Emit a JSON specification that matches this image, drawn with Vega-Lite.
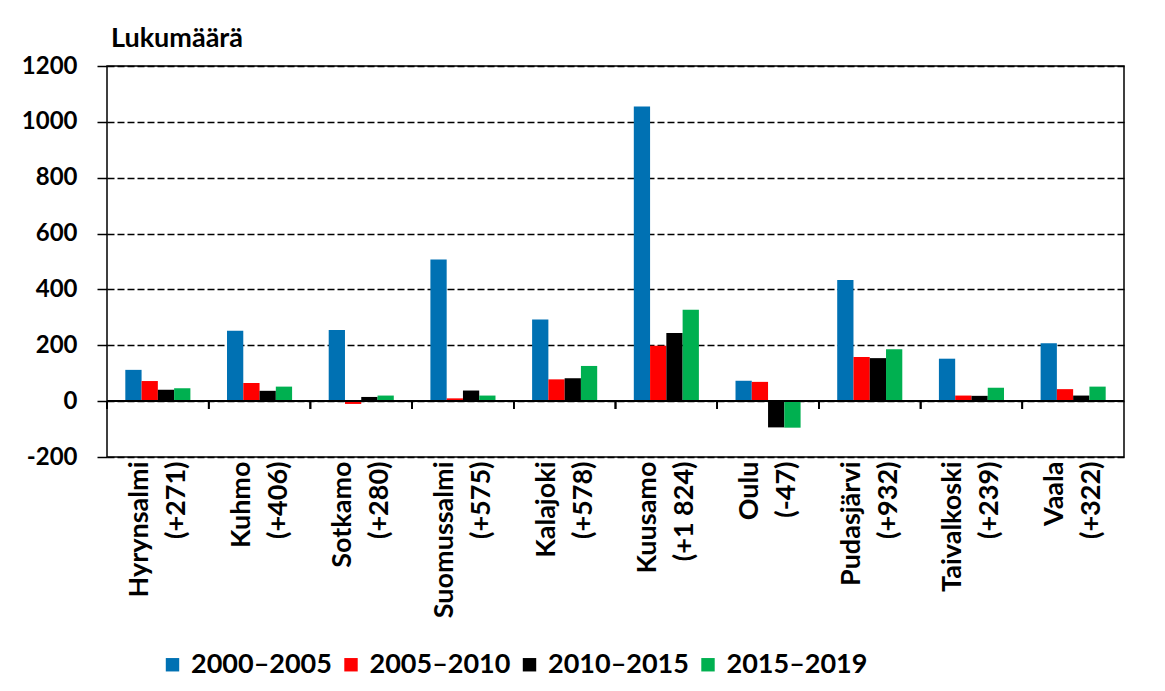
{
  "$schema": "https://vega.github.io/schema/vega-lite/v6.json",
  "width": 1017,
  "height": 391,
  "padding": {"left": 21, "top": 25, "right": 41, "bottom": 10},
  "background": "white",
  "title": {
    "text": "Lukumäärä",
    "anchor": "start",
    "frame": "group",
    "dx": 4,
    "offset": 1,
    "font": "Lato",
    "fontSize": 27,
    "fontWeight": "bold",
    "color": "black"
  },
  "data": {
    "values": [
      {"kunta": "Hyrynsalmi|(+271)", "jakso": "2000–2005", "arvo": 112},
      {"kunta": "Hyrynsalmi|(+271)", "jakso": "2005–2010", "arvo": 72},
      {"kunta": "Hyrynsalmi|(+271)", "jakso": "2010–2015", "arvo": 41},
      {"kunta": "Hyrynsalmi|(+271)", "jakso": "2015–2019", "arvo": 46},
      {"kunta": "Kuhmo|(+406)", "jakso": "2000–2005", "arvo": 252},
      {"kunta": "Kuhmo|(+406)", "jakso": "2005–2010", "arvo": 65},
      {"kunta": "Kuhmo|(+406)", "jakso": "2010–2015", "arvo": 37},
      {"kunta": "Kuhmo|(+406)", "jakso": "2015–2019", "arvo": 52},
      {"kunta": "Sotkamo|(+280)", "jakso": "2000–2005", "arvo": 255},
      {"kunta": "Sotkamo|(+280)", "jakso": "2005–2010", "arvo": -10},
      {"kunta": "Sotkamo|(+280)", "jakso": "2010–2015", "arvo": 15},
      {"kunta": "Sotkamo|(+280)", "jakso": "2015–2019", "arvo": 20},
      {"kunta": "Suomussalmi|(+575)", "jakso": "2000–2005", "arvo": 507},
      {"kunta": "Suomussalmi|(+575)", "jakso": "2005–2010", "arvo": 10},
      {"kunta": "Suomussalmi|(+575)", "jakso": "2010–2015", "arvo": 38},
      {"kunta": "Suomussalmi|(+575)", "jakso": "2015–2019", "arvo": 20},
      {"kunta": "Kalajoki|(+578)", "jakso": "2000–2005", "arvo": 292},
      {"kunta": "Kalajoki|(+578)", "jakso": "2005–2010", "arvo": 78},
      {"kunta": "Kalajoki|(+578)", "jakso": "2010–2015", "arvo": 82},
      {"kunta": "Kalajoki|(+578)", "jakso": "2015–2019", "arvo": 126},
      {"kunta": "Kuusamo|(+1 824)", "jakso": "2000–2005", "arvo": 1055},
      {"kunta": "Kuusamo|(+1 824)", "jakso": "2005–2010", "arvo": 198},
      {"kunta": "Kuusamo|(+1 824)", "jakso": "2010–2015", "arvo": 244},
      {"kunta": "Kuusamo|(+1 824)", "jakso": "2015–2019", "arvo": 327},
      {"kunta": "Oulu|(-47)", "jakso": "2000–2005", "arvo": 73},
      {"kunta": "Oulu|(-47)", "jakso": "2005–2010", "arvo": 69},
      {"kunta": "Oulu|(-47)", "jakso": "2010–2015", "arvo": -94},
      {"kunta": "Oulu|(-47)", "jakso": "2015–2019", "arvo": -95},
      {"kunta": "Pudasjärvi|(+932)", "jakso": "2000–2005", "arvo": 434},
      {"kunta": "Pudasjärvi|(+932)", "jakso": "2005–2010", "arvo": 158},
      {"kunta": "Pudasjärvi|(+932)", "jakso": "2010–2015", "arvo": 154},
      {"kunta": "Pudasjärvi|(+932)", "jakso": "2015–2019", "arvo": 186},
      {"kunta": "Taivalkoski|(+239)", "jakso": "2000–2005", "arvo": 152},
      {"kunta": "Taivalkoski|(+239)", "jakso": "2005–2010", "arvo": 20},
      {"kunta": "Taivalkoski|(+239)", "jakso": "2010–2015", "arvo": 19},
      {"kunta": "Taivalkoski|(+239)", "jakso": "2015–2019", "arvo": 48},
      {"kunta": "Vaala|(+322)", "jakso": "2000–2005", "arvo": 207},
      {"kunta": "Vaala|(+322)", "jakso": "2005–2010", "arvo": 43},
      {"kunta": "Vaala|(+322)", "jakso": "2010–2015", "arvo": 20},
      {"kunta": "Vaala|(+322)", "jakso": "2015–2019", "arvo": 52}
    ]
  },
  "layer": [
    {
      "mark": {"type": "bar"},
      "encoding": {
        "x": {
          "field": "kunta",
          "type": "nominal",
          "sort": null,
          "title": null,
          "scale": {"paddingInner": 0.36, "paddingOuter": 0.18},
          "axis": {
            "orient": "bottom",
            "domain": false,
            "ticks": false,
            "tickSize": 0,
            "labelAngle": -90,
            "labelAlign": "right",
            "labelBaseline": "middle",
            "labelExpr": "split(datum.label, '|')",
            "labelLineHeight": 37,
            "labelOffset": -18,
            "labelFont": "Lato",
            "labelFontSize": 27,
            "labelFontWeight": "bold",
            "labelColor": "black",
            "labelPadding": 4,
            "labelLimit": 400
          }
        },
        "xOffset": {
          "field": "jakso",
          "type": "nominal",
          "sort": ["2000–2005", "2005–2010", "2010–2015", "2015–2019"],
          "scale": {"paddingInner": 0, "paddingOuter": 0}
        },
        "y": {
          "field": "arvo",
          "type": "quantitative",
          "title": null,
          "scale": {"domain": [-200, 1200], "nice": false, "zero": false},
          "axis": {
            "values": [-200, 0, 200, 400, 600, 800, 1000, 1200],
            "labelExpr": "datum.value + ''",
            "grid": true,
            "gridDash": [7, 3],
            "gridColor": "black",
            "gridWidth": 1.3,
            "domain": false,
            "tickSize": 10,
            "tickColor": "black",
            "tickWidth": 1.5,
            "labelFont": "Lato",
            "labelFontSize": 24,
            "labelFontWeight": "bold",
            "labelColor": "black",
            "labelPadding": 20
          }
        },
        "color": {
          "field": "jakso",
          "type": "nominal",
          "scale": {
            "domain": ["2000–2005", "2005–2010", "2010–2015", "2015–2019"],
            "range": ["#0071B3", "#FF0000", "#000000", "#00B050"]
          },
          "legend": {
            "orient": "none",
            "legendX": 52,
            "legendY": 585,
            "direction": "horizontal",
            "title": null,
            "padding": 0,
            "symbolType": "square",
            "symbolSize": 180,
            "symbolStrokeWidth": 0,
            "labelFont": "Lato",
            "labelFontSize": 27,
            "labelFontWeight": "bold",
            "labelColor": "black",
            "labelOffset": 5,
            "labelLimit": 300,
            "columnPadding": 5.5
          }
        }
      }
    },
    {
      "mark": {"type": "rule", "color": "black", "strokeWidth": 1.5},
      "encoding": {"y": {"datum": 0, "title": null}}
    },
    {
      "mark": {"type": "rule", "color": "black", "strokeWidth": 1.5},
      "encoding": {
        "x": {"field": "kunta", "type": "nominal", "sort": null, "title": null, "bandPosition": -0.28125},
        "y": {"datum": 0, "title": null},
        "y2": {"datum": -28}
      }
    }
  ],
  "config": {
    "view": {"stroke": "black", "strokeWidth": 1.5}
  }
}
